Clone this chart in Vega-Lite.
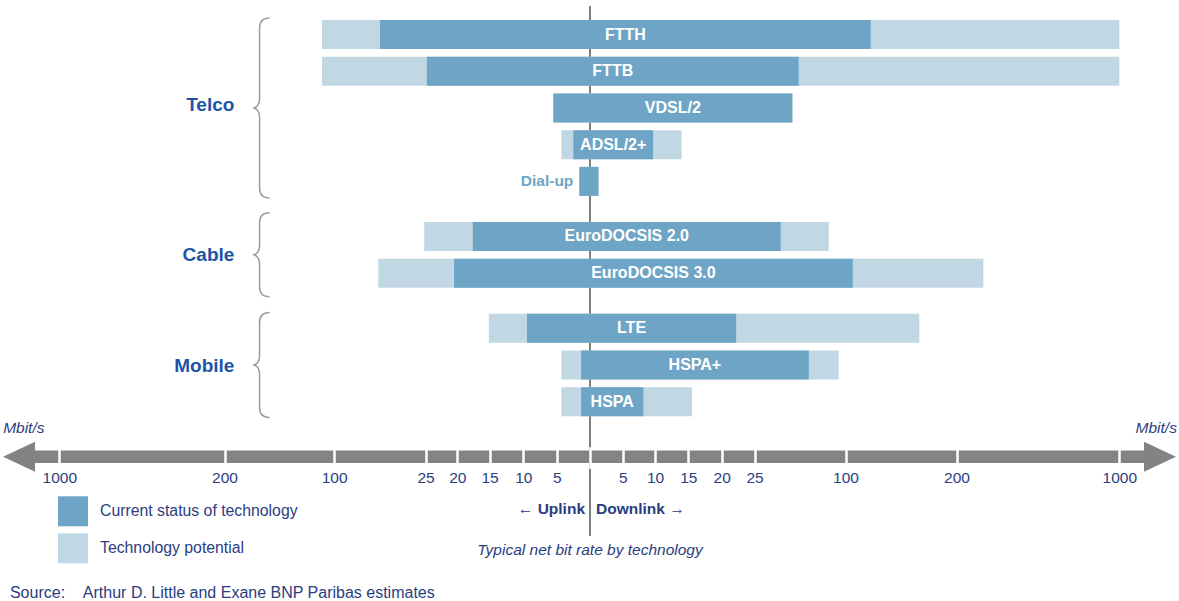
{
  "$schema": "https://vega.github.io/schema/vega-lite/v6.json",
  "width": 1179,
  "height": 530,
  "autosize": "none",
  "padding": {"top": 6, "bottom": 65, "left": 0, "right": 0},
  "background": "white",
  "config": {
    "font": "Liberation Sans",
    "view": {"stroke": null},
    "legend": {
      "orient": "none", "legendX": 58, "legendY": 490.3,
      "symbolType": "square", "symbolSize": 900, "symbolStrokeWidth": 0, "symbolOpacity": 1,
      "labelFontSize": 15.8, "labelColor": "#2b3d80", "labelOffset": 12, "rowPadding": 7,
      "padding": 0, "labelLimit": 400
    }
  },
  "data": {"values": [
    {"tech": "FTTH", "group": "Telco", "up_potential": -111, "up_current": -62.4, "down_current": 122.7, "down_potential": 1000},
    {"tech": "FTTB", "group": "Telco", "up_potential": -111, "up_current": -24.8, "down_current": 61.4, "down_potential": 1000},
    {"tech": "VDSL/2", "group": "Telco", "up_potential": -5.5, "up_current": -5.5, "down_current": 56.2, "down_potential": 56.2},
    {"tech": "ADSL/2+", "group": "Telco", "up_potential": -4.3, "up_current": -2.5, "down_current": 9.7, "down_potential": 14},
    {"tech": "Dial-up", "group": "Telco", "up_potential": -1.6, "up_current": -1.6, "down_current": 1.3, "down_potential": 1.3},
    {"tech": "EuroDOCSIS 2.0", "group": "Cable", "up_potential": -26.1, "up_current": -17.6, "down_current": 46.6, "down_potential": 86.2},
    {"tech": "EuroDOCSIS 3.0", "group": "Cable", "up_potential": -63.8, "up_current": -20.5, "down_current": 106.5, "down_potential": 331.7},
    {"tech": "LTE", "group": "Mobile", "up_potential": -15.1, "up_current": -9.45, "down_current": 22.2, "down_potential": 166.5},
    {"tech": "HSPA+", "group": "Mobile", "up_potential": -4.3, "up_current": -1.34, "down_current": 69.7, "down_potential": 94.4},
    {"tech": "HSPA", "group": "Mobile", "up_potential": -4.3, "up_current": -1.34, "down_current": 8.2, "down_potential": 15.55}
  ]},
  "layer": [
    {
      "data": {"values": [{}]},
      "mark": {"type": "rule", "color": "#555555", "strokeWidth": 1.5},
      "encoding": {
        "x": {"datum": 0, "type": "quantitative"}
      }
    },
    {
      "mark": {"type": "bar", "height": 29},
      "encoding": {
        "x": {"field": "up_potential", "type": "quantitative",
              "scale": {"type": "linear", "nice": false,
                        "domain": [-1300, -1000, -200, -100, -25, -20, -15, -10, -5, 0, 5, 10, 15, 20, 25, 100, 200, 1000, 1300],
                        "range": [-2.65, 59.3, 224.5, 334.1, 425.6, 457.3, 489.5, 523.3, 556.7, 590, 622.7, 655, 688.3, 721.7, 754.5, 845.5, 956.5, 1119.3, 1180.35]},
              "axis": {"values": [-1000, -200, -100, -25, -20, -15, -10, -5, 0, 5, 10, 15, 20, 25, 100, 200, 1000],
                       "labelExpr": "datum.value == 0 ? '' : format(abs(datum.value), 'd')",
                       "orient": "bottom", "offset": -89.3, "domain": false, "grid": false,
                       "ticks": true, "tickColor": "white", "tickWidth": 2.5, "tickSize": 21.6,
                       "labelFontSize": 15.5, "labelColor": "#2b3d80", "labelPadding": 2.3,
                       "labelFlush": false, "labelOverlap": false, "labelBound": false,
                       "title": null, "zindex": 1}},
        "x2": {"field": "down_potential"},
        "y": {"field": "tech", "type": "nominal", "axis": null,
              "scale": {"type": "band", "paddingInner": 0, "paddingOuter": 0, "range": [19.32, 588.48],
                        "domain": ["FTTH", "g1", "FTTB", "g3", "VDSL/2", "g5", "ADSL/2+", "g7", "Dial-up", "g9", "g10",
                                   "EuroDOCSIS 2.0", "Cable", "EuroDOCSIS 3.0", "g14", "g15",
                                   "LTE", "g17", "HSPA+", "g19", "HSPA", "g21", "unit", "axis", "g24", "g25",
                                   "direction", "g27", "caption", "g29", "source"]}},
        "color": {"datum": "Technology potential", "type": "nominal",
                  "scale": {"domain": ["Current status of technology", "Technology potential"], "range": ["#6ea5c6", "#c1d7e4"]},
                  "legend": {"title": null}}
      }
    },
    {
      "mark": {"type": "bar", "height": 29},
      "encoding": {
        "x": {"field": "up_current", "type": "quantitative"},
        "x2": {"field": "down_current"},
        "y": {"field": "tech", "type": "nominal"},
        "color": {"datum": "Current status of technology", "type": "nominal"}
      }
    },
    {
      "transform": [{"filter": {"field": "tech", "equal": "Dial-up"}}],
      "mark": {"type": "text", "align": "right", "dx": -6, "fontWeight": "bold", "fontSize": 15.5, "color": "#6ea5c6"},
      "encoding": {
        "x": {"field": "up_current", "type": "quantitative"},
        "y": {"field": "tech", "type": "nominal"},
        "text": {"field": "tech"}
      }
    },
    {
      "transform": [{"filter": {"not": {"field": "tech", "equal": "Dial-up"}}}],
      "mark": {"type": "text", "color": "white", "fontWeight": "bold", "fontSize": 16, "align": "center",
               "dx": {"expr": "(scale('x', datum.up_current) - scale('x', datum.down_current)) / 2"}},
      "encoding": {
        "x": {"field": "down_current", "type": "quantitative"},
        "y": {"field": "tech", "type": "nominal"},
        "text": {"field": "tech"}
      }
    },
    {
      "data": {"values": [{}]},
      "mark": {"type": "bar", "height": 12.5, "color": "#838383"},
      "encoding": {
        "x": {"datum": -1195, "type": "quantitative"},
        "x2": {"datum": 1200},
        "y": {"datum": "axis", "type": "nominal"}
      }
    },
    {
      "data": {"values": [{}]},
      "mark": {"type": "point", "filled": true, "opacity": 1, "color": "#838383", "size": 1024,
               "shape": "M -1 0 L 1 -0.94 L 1 0.94 Z"},
      "encoding": {
        "x": {"datum": -1195, "type": "quantitative"},
        "y": {"datum": "axis", "type": "nominal"}
      }
    },
    {
      "data": {"values": [{}]},
      "mark": {"type": "point", "filled": true, "opacity": 1, "color": "#838383", "size": 1024,
               "shape": "M 1 0 L -1 -0.94 L -1 0.94 Z"},
      "encoding": {
        "x": {"datum": 1200, "type": "quantitative"},
        "y": {"datum": "axis", "type": "nominal"}
      }
    },
    {
      "data": {"values": [{}]},
      "mark": {"type": "text", "text": "Mbit/s", "align": "left", "fontStyle": "italic", "fontSize": 15.5, "color": "#2b3d80", "dy": -10},
      "encoding": {
        "x": {"datum": -1272, "type": "quantitative"},
        "y": {"datum": "unit", "type": "nominal"}
      }
    },
    {
      "data": {"values": [{}]},
      "mark": {"type": "text", "text": "Mbit/s", "align": "right", "fontStyle": "italic", "fontSize": 15.5, "color": "#2b3d80", "dy": -10},
      "encoding": {
        "x": {"datum": 1283, "type": "quantitative"},
        "y": {"datum": "unit", "type": "nominal"}
      }
    },
    {
      "data": {"values": [{}]},
      "mark": {"type": "text", "text": "← Uplink", "align": "right", "dx": -5, "dy": -2.6, "fontWeight": "bold", "fontSize": 15.5, "color": "#2b3d80"},
      "encoding": {
        "x": {"datum": 0, "type": "quantitative"},
        "y": {"datum": "direction", "type": "nominal"}
      }
    },
    {
      "data": {"values": [{}]},
      "mark": {"type": "text", "text": "Downlink →", "align": "left", "dx": 6, "dy": -2.6, "fontWeight": "bold", "fontSize": 15.5, "color": "#2b3d80"},
      "encoding": {
        "x": {"datum": 0, "type": "quantitative"},
        "y": {"datum": "direction", "type": "nominal"}
      }
    },
    {
      "data": {"values": [{}]},
      "mark": {"type": "text", "text": "Typical net bit rate by technology", "align": "center", "dy": 1.4, "fontStyle": "italic", "fontSize": 15.5, "color": "#2b3d80"},
      "encoding": {
        "x": {"datum": 0, "type": "quantitative"},
        "y": {"datum": "caption", "type": "nominal"}
      }
    },
    {
      "data": {"values": [{}]},
      "mark": {"type": "text", "text": "Source:\u00a0\u00a0\u00a0\u00a0Arthur D. Little and Exane BNP Paribas estimates", "align": "left", "dy": 7.4, "fontSize": 16, "color": "#2b3d80"},
      "encoding": {
        "x": {"datum": -1239, "type": "quantitative"},
        "y": {"datum": "source", "type": "nominal"}
      }
    },
    {
      "data": {"values": [{"group": "Telco"}]},
      "mark": {"type": "text", "align": "right", "dy": -2.5, "fontWeight": "bold", "fontSize": 19, "color": "#1d55a6"},
      "encoding": {
        "x": {"datum": -191, "type": "quantitative"},
        "y": {"datum": "VDSL/2", "type": "nominal"},
        "text": {"field": "group"}
      }
    },
    {
      "data": {"values": [{"group": "Cable"}]},
      "mark": {"type": "text", "align": "right", "fontWeight": "bold", "fontSize": 19, "color": "#1d55a6"},
      "encoding": {
        "x": {"datum": -191, "type": "quantitative"},
        "y": {"datum": "Cable", "type": "nominal"},
        "text": {"field": "group"}
      }
    },
    {
      "data": {"values": [{"group": "Mobile"}]},
      "mark": {"type": "text", "align": "right", "dy": 1, "fontWeight": "bold", "fontSize": 19, "color": "#1d55a6"},
      "encoding": {
        "x": {"datum": -191, "type": "quantitative"},
        "y": {"datum": "HSPA+", "type": "nominal"},
        "text": {"field": "group"}
      }
    },
    {
      "data": {"values": [{"group": "Telco"}]},
      "mark": {"type": "point", "filled": false, "opacity": 1, "color": "#9c9c9c", "strokeWidth": 1.5, "size": 40000,
               "shape": "M 0.1 -0.9 C 0.035 -0.9 0 -0.87 0 -0.8 L 0 -0.09 C 0 -0.035 -0.03 0 -0.065 0 C -0.03 0 0 0.035 0 0.09 L 0 0.8 C 0 0.87 0.035 0.9 0.1 0.9"},
      "encoding": {
        "x": {"datum": -168, "type": "quantitative"},
        "y": {"datum": "VDSL/2", "type": "nominal"}
      }
    },
    {
      "data": {"values": [{"group": "Cable"}]},
      "mark": {"type": "point", "filled": false, "opacity": 1, "color": "#9c9c9c", "strokeWidth": 1.5, "size": 40000,
               "shape": "M 0.1 -0.42 C 0.035 -0.42 0 -0.39 0 -0.32 L 0 -0.09 C 0 -0.035 -0.03 0 -0.065 0 C -0.03 0 0 0.035 0 0.09 L 0 0.32 C 0 0.39 0.035 0.42 0.1 0.42"},
      "encoding": {
        "x": {"datum": -168, "type": "quantitative"},
        "y": {"datum": "Cable", "type": "nominal"}
      }
    },
    {
      "data": {"values": [{"group": "Mobile"}]},
      "mark": {"type": "point", "filled": false, "opacity": 1, "color": "#9c9c9c", "strokeWidth": 1.5, "size": 40000,
               "shape": "M 0.1 -0.525 C 0.035 -0.525 0 -0.495 0 -0.425 L 0 -0.09 C 0 -0.035 -0.03 0 -0.065 0 C -0.03 0 0 0.035 0 0.09 L 0 0.425 C 0 0.495 0.035 0.525 0.1 0.525"},
      "encoding": {
        "x": {"datum": -168, "type": "quantitative"},
        "y": {"datum": "HSPA+", "type": "nominal"}
      }
    }
  ]
}
